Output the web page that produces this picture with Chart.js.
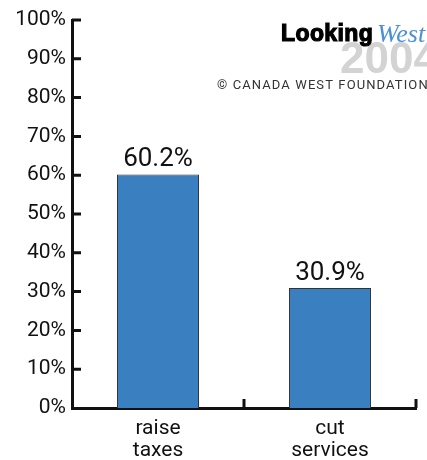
<!DOCTYPE html>
<html lang="en">
<head>
    <meta charset="UTF-8">
    <title>Raise taxes or cut services</title>
    <script src="https://cdn.jsdelivr.net/npm/chart.js"></script>
    <style>
        html, body {
            margin: 0;
            padding: 0;
            background: #fff;
        }
        .chart-box {
            position: relative;
            width: 427px;
            height: 460px;
        }
    </style>
</head>
<body>
    <div class="chart-box">
        <canvas id="surveyChart"></canvas>
    </div>

    <script>
        // Data
        const categories = [['raise', 'taxes'], ['cut', 'services']];
        const shares = [60.2, 30.9];
        const yTicks = [0, 10, 20, 30, 40, 50, 60, 70, 80, 90, 100];

        const inkColor = '#111';
        const fontFamily = 'Roboto, "Liberation Sans", sans-serif';

        // Ticks point into the plot on both axes, so they are drawn here
        const inwardTicks = {
            id: 'inwardTicks',
            afterDatasetsDraw(chart) {
                const ctx = chart.ctx;
                const x = chart.scales.x;
                const y = chart.scales.y;
                const area = chart.chartArea;
                ctx.save();
                ctx.strokeStyle = inkColor;
                ctx.lineWidth = 3;
                ctx.beginPath();
                yTicks.forEach(v => {
                    if (v === 0) return;
                    const py = y.getPixelForValue(v);
                    ctx.moveTo(area.left, py);
                    ctx.lineTo(area.left + 9, py);
                });
                for (let i = 0; i < categories.length; i++) {
                    const px = x.getPixelForValue(i) + (x.getPixelForValue(1) - x.getPixelForValue(0)) / 2;
                    ctx.moveTo(px, area.bottom);
                    ctx.lineTo(px, area.bottom - 9);
                }
                ctx.stroke();
                ctx.restore();
            }
        };

        // Percentage above each bar
        const valueLabels = {
            id: 'valueLabels',
            afterDatasetsDraw(chart) {
                const ctx = chart.ctx;
                const meta = chart.getDatasetMeta(0);
                ctx.save();
                ctx.fillStyle = inkColor;
                ctx.font = '26px ' + fontFamily;
                ctx.textAlign = 'center';
                ctx.textBaseline = 'alphabetic';
                meta.data.forEach((bar, i) => {
                    ctx.fillText(shares[i].toFixed(1) + '%', bar.x, bar.y - 8);
                });
                ctx.restore();
            }
        };

        // Publisher mark in the top right corner
        const logo = {
            id: 'logo',
            afterDraw(chart) {
                const ctx = chart.ctx;
                ctx.save();
                ctx.textBaseline = 'alphabetic';
                ctx.textAlign = 'left';

                ctx.fillStyle = '#d3d3d3';
                ctx.font = 'bold 44px "Liberation Sans Narrow", "Liberation Sans", sans-serif';
                ctx.fillText('2004', 340, 73);

                ctx.fillStyle = '#000';
                ctx.strokeStyle = '#000';
                ctx.lineWidth = 1.2;
                ctx.font = 'bold 23px "Liberation Sans", sans-serif';
                ctx.letterSpacing = '0.4px';
                ctx.fillText('Looking', 281, 41);
                ctx.strokeText('Looking', 281, 41);
                ctx.letterSpacing = '0px';

                ctx.fillStyle = '#4a90d4';
                ctx.font = 'italic 26px "Liberation Serif", serif';
                ctx.fillText('West', 377, 42);

                ctx.fillStyle = '#333';
                ctx.font = '13px ' + fontFamily;
                ctx.letterSpacing = '1.1px';
                ctx.fillText('\u00A9 CANADA WEST FOUNDATION', 217, 89);
                ctx.restore();
            }
        };

        new Chart(document.getElementById('surveyChart'), {
            type: 'bar',
            data: {
                labels: categories,
                datasets: [{
                    data: shares,
                    backgroundColor: '#3a80c0',
                    borderColor: '#333',
                    borderWidth: 1,
                    categoryPercentage: 1,
                    barPercentage: 0.477
                }]
            },
            options: {
                responsive: true,
                maintainAspectRatio: false,
                animation: false,
                layout: {
                    padding: { top: 20, right: 11, left: 0, bottom: 0 }
                },
                plugins: {
                    legend: { display: false },
                    tooltip: { enabled: false }
                },
                scales: {
                    x: {
                        grid: { display: false, drawTicks: false },
                        border: { color: inkColor, width: 3 },
                        ticks: {
                            color: inkColor,
                            padding: 10,
                            font: { family: fontFamily, size: 21, lineHeight: 1.05 }
                        },
                        afterFit(scale) { scale.height = 52; }
                    },
                    y: {
                        min: 0,
                        max: 100,
                        grid: { display: false, drawTicks: false },
                        border: { color: inkColor, width: 3 },
                        afterBuildTicks(scale) {
                            scale.ticks = yTicks.map(v => ({ value: v }));
                        },
                        ticks: {
                            color: inkColor,
                            padding: 6,
                            font: { family: fontFamily, size: 21 },
                            callback: v => v + '%'
                        },
                        afterFit(scale) { scale.width = 72; }
                    }
                }
            },
            plugins: [inwardTicks, valueLabels, logo]
        });
    </script>
</body>
</html>
